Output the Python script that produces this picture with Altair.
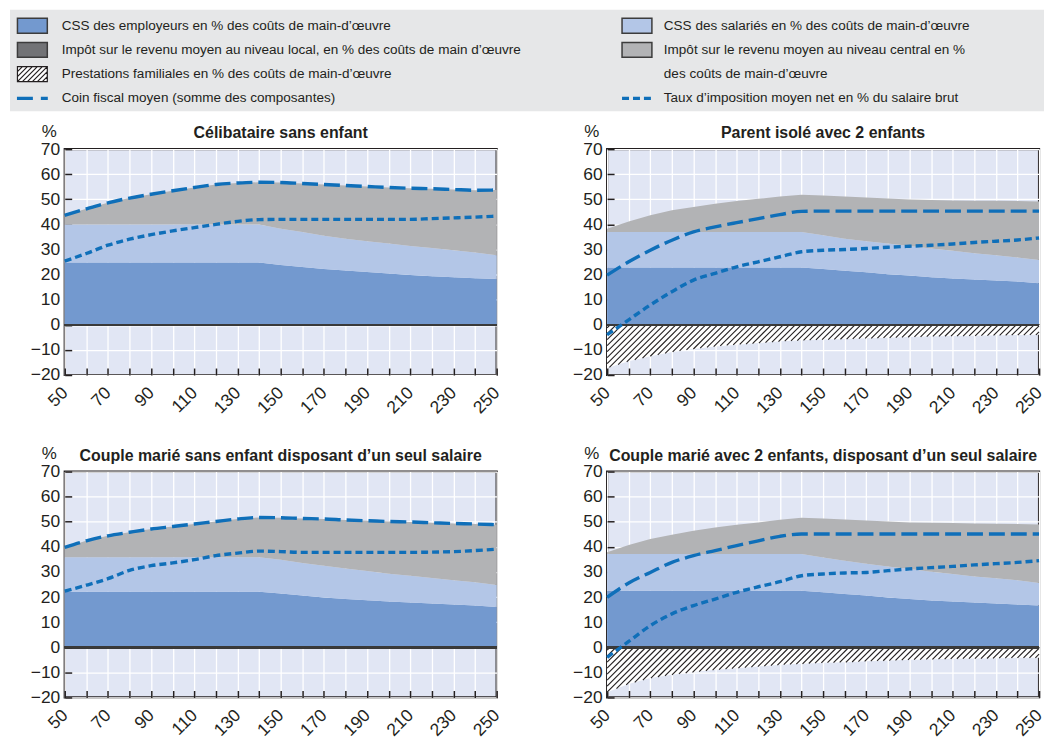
import altair as alt
import numpy as np
import pandas as pd

# ---------------- data ----------------
X_VALUES = [50, 60, 70, 80, 90, 100, 110, 120, 130, 140, 150,
            160, 170, 180, 190, 200, 210, 220, 230, 240, 250]

TITLES = [
    "Célibataire sans enfant",
    "Parent isolé avec 2 enfants",
    "Couple marié sans enfant disposant d’un seul salaire",
    "Couple marié avec 2 enfants, disposant d’un seul salaire",
]

ZEROS = [0.0, 0.0, 0.0, 0.0, 0.0, 0.0, 0.0, 0.0, 0.0, 0.0, 0.0,
         0.0, 0.0, 0.0, 0.0, 0.0, 0.0, 0.0, 0.0, 0.0, 0.0]

# Panel 1 : Célibataire sans enfant
EMPLOYER_1 = [24.8, 24.8, 24.8, 24.8, 24.8, 24.8, 24.8, 24.8, 24.8, 24.8, 23.8,
              23.0, 22.2, 21.6, 21.0, 20.4, 19.8, 19.3, 18.9, 18.5, 18.2]
EMPLOYEE_1 = [15.2, 15.2, 15.2, 15.2, 15.2, 15.2, 15.2, 15.2, 15.2, 15.2, 14.5,
              14.0, 13.3, 12.7, 12.3, 12.0, 11.6, 11.3, 10.8, 10.3, 9.5]
CENTRAL_1 = [3.6, 6.2, 8.6, 10.5, 12.0, 13.4, 14.7, 15.9, 16.5, 16.8, 18.4,
             19.3, 20.4, 21.2, 21.8, 22.3, 23.0, 23.6, 24.2, 24.8, 26.0]
LOCAL_1 = ZEROS
BENEFITS_1 = ZEROS
WEDGE_1 = [43.6, 46.2, 48.6, 50.5, 52.0, 53.4, 54.7, 55.9, 56.5, 56.8, 56.7,
           56.3, 55.9, 55.5, 55.1, 54.7, 54.4, 54.2, 53.9, 53.6, 53.7]
NET_1 = [25.4, 28.4, 31.7, 34.1, 35.9, 37.4, 38.7, 40.0, 41.2, 41.9, 42.0,
         42.0, 42.0, 42.0, 42.0, 42.0, 42.0, 42.3, 42.6, 42.9, 43.3]

# Panel 2 : Parent isolé avec 2 enfants
EMPLOYER_2 = [22.8, 22.8, 22.8, 22.8, 22.8, 22.8, 22.8, 22.8, 22.8, 22.8, 22.2,
              21.5, 20.9, 20.1, 19.6, 18.9, 18.4, 18.0, 17.6, 17.2, 16.6]
EMPLOYEE_2 = [14.2, 14.2, 14.2, 14.2, 14.2, 14.2, 14.2, 14.2, 14.2, 14.2, 13.5,
              12.8, 12.4, 12.3, 11.8, 11.5, 11.1, 10.5, 10.1, 9.6, 9.2]
CENTRAL_2 = [1.3, 4.2, 6.6, 8.6, 9.9, 11.2, 12.3, 13.2, 14.1, 14.8, 15.8,
             16.8, 17.4, 17.9, 18.5, 19.3, 20.0, 20.9, 21.7, 22.5, 23.3]
LOCAL_2 = ZEROS
BENEFITS_2 = [-17.2, -14.5, -12.5, -10.8, -9.6, -8.6, -7.9, -7.3, -6.6, -6.2, -5.9,
              -5.7, -5.4, -5.2, -4.9, -4.6, -4.5, -4.4, -4.2, -4.1, -4.0]
WEDGE_2 = [19.8, 25.1, 29.7, 33.7, 37.0, 39.0, 40.7, 42.3, 43.9, 45.2, 45.3,
           45.3, 45.3, 45.3, 45.3, 45.3, 45.3, 45.3, 45.3, 45.3, 45.3]
NET_2 = [-4.0, 2.0, 7.9, 13.2, 17.8, 20.5, 23.1, 25.1, 27.1, 29.1, 29.7,
         30.0, 30.4, 30.9, 31.3, 31.7, 32.2, 32.8, 33.3, 33.8, 34.6]

# Panel 3 : Couple marié sans enfant
EMPLOYER_3 = [22.1, 22.1, 22.1, 22.1, 22.1, 22.1, 22.1, 22.1, 22.1, 22.1, 21.4,
              20.6, 19.8, 19.2, 18.7, 18.2, 17.8, 17.4, 17.0, 16.6, 16.0]
EMPLOYEE_3 = [13.8, 13.8, 13.8, 13.8, 13.8, 13.8, 13.8, 13.8, 13.8, 13.8, 13.5,
              13.0, 12.7, 12.2, 11.7, 11.1, 10.7, 10.2, 9.7, 9.3, 8.8]
CENTRAL_3 = [3.9, 6.5, 8.5, 9.9, 11.2, 12.2, 13.2, 14.2, 15.2, 15.8, 16.7,
             17.7, 18.6, 19.3, 20.0, 20.8, 21.4, 22.0, 22.6, 23.2, 24.0]
LOCAL_3 = ZEROS
BENEFITS_3 = ZEROS
WEDGE_3 = [39.8, 42.4, 44.4, 45.8, 47.1, 48.1, 49.1, 50.1, 51.1, 51.7, 51.6,
           51.3, 51.1, 50.7, 50.4, 50.1, 49.9, 49.6, 49.3, 49.1, 48.8]
NET_3 = [22.4, 24.7, 27.3, 30.6, 32.5, 33.6, 34.9, 36.5, 37.5, 38.3, 38.1,
         37.8, 37.8, 37.8, 37.8, 37.8, 37.8, 37.9, 38.1, 38.5, 39.1]

# Panel 4 : Couple marié avec 2 enfants
EMPLOYER_4 = [22.5, 22.5, 22.5, 22.5, 22.5, 22.5, 22.5, 22.5, 22.5, 22.5, 21.9,
              21.2, 20.6, 19.8, 19.2, 18.6, 18.2, 17.8, 17.4, 17.0, 16.6]
EMPLOYEE_4 = [14.6, 14.6, 14.6, 14.6, 14.6, 14.6, 14.6, 14.6, 14.6, 14.6, 13.9,
              13.3, 12.7, 12.4, 12.0, 11.5, 11.0, 10.4, 10.1, 9.7, 9.0]
CENTRAL_4 = [0.7, 3.6, 6.0, 7.7, 9.3, 10.6, 11.7, 12.6, 13.7, 14.5, 15.5,
             16.4, 17.2, 17.9, 18.5, 19.5, 20.3, 21.1, 21.7, 22.4, 23.3]
LOCAL_4 = ZEROS
BENEFITS_4 = [-17.9, -14.6, -12.3, -11.0, -9.9, -9.0, -8.4, -7.7, -7.0, -6.6, -6.2,
              -6.0, -5.6, -5.3, -5.0, -4.8, -4.6, -4.5, -4.4, -4.2, -4.2]
WEDGE_4 = [19.9, 25.6, 29.8, 33.8, 36.5, 38.5, 40.5, 42.4, 44.2, 45.1, 45.1,
           45.1, 45.1, 45.1, 45.1, 45.1, 45.1, 45.1, 45.1, 45.1, 45.1]
NET_4 = [-4.0, 2.3, 8.6, 13.3, 16.6, 19.2, 21.9, 24.1, 26.1, 28.5, 29.2,
         29.6, 29.8, 30.5, 31.2, 31.7, 32.2, 32.8, 33.3, 33.8, 34.5]

Y_TICKS = [-20, -10, 0, 10, 20, 30, 40, 50, 60, 70]

LEGEND_LABELS = [
    "CSS des employeurs en % des coûts de main-d’œuvre",
    "CSS des salariés en % des coûts de main-d’œuvre",
    "Impôt sur le revenu moyen au niveau local, en % des coûts de main d’œuvre",
    "Impôt sur le revenu moyen au niveau central en %",
    "Prestations familiales en % des coûts de main-d’œuvre",
    "des coûts de main-d’œuvre",
    "Coin fiscal moyen (somme des composantes)",
    "Taux d’imposition moyen net en % du salaire brut",
]
LEGEND_COLS = ["L", "R", "L", "R", "L", "R", "L", "R"]
LEGEND_ROWS = [1, 1, 2, 2, 3, 3, 4, 4]
LEGEND_KINDS = ["fill", "fill", "fill", "fill", "hatch", "none", "dash", "dot"]

# ---------------- styles ----------------
C_EMPLOYER = "#7399CF"
C_EMPLOYEE = "#B3C6E7"
C_LOCAL = "#727376"
C_CENTRAL = "#B2B3B5"
C_LINE = "#0F6FB9"
C_PLOT_BG = "#E1E6F4"
C_LEG_BG = "#E6E7E8"
C_FRAME = "#231F20"
C_TEXT = "#231F20"
LEGEND_COLORS = [C_EMPLOYER, C_EMPLOYEE, C_LOCAL, C_CENTRAL, "white", "white", C_LINE, C_LINE]

FONT = "Liberation Sans, Arial, sans-serif"

X_MIN, X_MAX = 50, 250
Y_MIN, Y_MAX = -20, 70
PANEL_H = 227
PANEL_W = [434, 434, 434, 434]

PANELS = [
    (EMPLOYER_1, EMPLOYEE_1, LOCAL_1, CENTRAL_1, BENEFITS_1, WEDGE_1, NET_1),
    (EMPLOYER_2, EMPLOYEE_2, LOCAL_2, CENTRAL_2, BENEFITS_2, WEDGE_2, NET_2),
    (EMPLOYER_3, EMPLOYEE_3, LOCAL_3, CENTRAL_3, BENEFITS_3, WEDGE_3, NET_3),
    (EMPLOYER_4, EMPLOYEE_4, LOCAL_4, CENTRAL_4, BENEFITS_4, WEDGE_4, NET_4),
]


def hatch_segments(xs, b, width_px, height_px, spacing_px=6.0):
    """45-degree hatch lines filling the area between 0 and the benefit curve."""
    kx = width_px / (X_MAX - X_MIN)
    ky = height_px / (Y_MAX - Y_MIN)
    slope = kx / ky
    fine = np.linspace(X_MIN, X_MAX, 4001)
    bf = np.interp(fine, xs, b)
    if bf.min() >= 0:
        return pd.DataFrame({"x1": [], "y1": [], "x2": [], "y2": []})
    step = spacing_px / kx
    depth = -bf.min()
    rows = []
    xa = X_MIN + step * 0.5
    while xa < X_MAX + depth / slope:
        if xa <= X_MAX:
            x_top, y_top = xa, 0.0
        else:
            x_top, y_top = float(X_MAX), slope * (X_MAX - xa)
        if y_top > bf[-1] or xa <= X_MAX:
            yline = slope * (fine - xa)
            below = (fine <= x_top) & (yline <= bf)
            if below.any():
                x_bot = fine[np.where(below)[0].max()]
            else:
                x_bot = float(X_MIN)
            y_bot = slope * (x_bot - xa)
            if x_top - x_bot > 1e-6:
                rows.append((x_top, y_top, x_bot, y_bot))
        xa += step
    return pd.DataFrame(rows, columns=["x1", "y1", "x2", "y2"])


def hatch_symbol_path():
    parts = ["M-1,-0.5H1V0.5H-1Z"]
    step = 1.0 / 3.0
    b = -2.0 + step
    while b < 1.0:
        x0, y0 = b, 0.5
        x1, y1 = b + 1.0, -0.5
        if x0 < -1:
            y0 = 0.5 - (-1 - b)
            x0 = -1.0
        if x1 > 1:
            y1 = 0.5 - (1 - b)
            x1 = 1.0
        if x1 - x0 > 0.05:
            parts.append(f"M{x0:.3f},{y0:.3f}L{x1:.3f},{y1:.3f}")
        b += step
    return "".join(parts)


def make_panel(idx):
    emp, sal, loc, cen, ben, wedge, net = PANELS[idx]
    width = PANEL_W[idx]
    df = pd.DataFrame({"x": X_VALUES, "emp": emp, "sal": sal, "loc": loc,
                       "cen": cen, "ben": ben, "wedge": wedge, "net": net})
    df["zero"] = 0.0
    df["e_hi"] = df["emp"]
    df["s_hi"] = df["e_hi"] + df["sal"]
    df["l_hi"] = df["s_hi"] + df["loc"]
    df["c_hi"] = df["l_hi"] + df["cen"]

    xsc = alt.Scale(domain=[X_MIN, X_MAX], nice=False, zero=False)
    ysc = alt.Scale(domain=[Y_MIN, Y_MAX], nice=False, zero=False)
    xax = alt.Axis(values=X_VALUES, grid=True, gridColor="white", gridWidth=1.3,
                   domain=False, ticks=True, tickSize=7, offset=-7,
                   tickColor=C_FRAME, tickWidth=1.5,
                   labelExpr="datum.value % 20 == 10 ? datum.label : ''",
                   labelAngle=-45, labelAlign="right", labelBaseline="middle",
                   labelPadding=15, labelFont=FONT, labelFontSize=17.5,
                   labelColor=C_TEXT, labelOverlap=False, labelFlush=False,
                   title=None)
    yax = alt.Axis(values=Y_TICKS, grid=True, gridColor="white", gridWidth=1.3,
                   domain=False, ticks=True, tickSize=7, offset=-7,
                   tickColor=C_FRAME, tickWidth=1.5,
                   labelPadding=5, labelFont=FONT, labelFontSize=17.5,
                   labelColor=C_TEXT, labelOverlap=False, labelFlush=False,
                   title="%", titleAngle=0, titleX=-23, titleY=-18,
                   titleAlign="center", titleBaseline="middle",
                   titleFont=FONT, titleFontSize=17, titleFontWeight="normal",
                   titleColor=C_TEXT, minExtent=62, maxExtent=62)

    def X(field):
        return alt.X(f"{field}:Q", scale=xsc, axis=xax)

    def Y(field):
        return alt.Y(f"{field}:Q", scale=ysc, axis=yax)

    base = alt.Chart(df)
    layers = [
        base.mark_area(color=C_EMPLOYER, opacity=1).encode(x=X("x"), y=Y("zero"), y2="e_hi:Q"),
        base.mark_area(color=C_EMPLOYEE, opacity=1).encode(x=X("x"), y=Y("e_hi"), y2="s_hi:Q"),
        base.mark_area(color=C_LOCAL, opacity=1).encode(x=X("x"), y=Y("s_hi"), y2="l_hi:Q"),
        base.mark_area(color=C_CENTRAL, opacity=1).encode(x=X("x"), y=Y("l_hi"), y2="c_hi:Q"),
    ]
    hdf = hatch_segments(np.array(X_VALUES, float), np.array(ben, float), width, PANEL_H)
    if len(hdf):
        layers.append(base.mark_area(color="white", opacity=1).encode(x=X("x"), y=Y("zero"), y2="ben:Q"))
        layers.append(alt.Chart(hdf).mark_rule(color=C_FRAME, strokeWidth=1.1).encode(
            x=X("x1"), x2="x2:Q", y=Y("y1"), y2="y2:Q"))
    layers += [
        base.mark_rule(color="#3A3A3A", strokeWidth=1.8).encode(y=alt.Y(datum=0, scale=ysc, axis=yax)),
        base.mark_line(color=C_LINE, strokeWidth=3.4, strokeDash=[16, 6],
                       interpolate="monotone").encode(x=X("x"), y=Y("wedge")),
        base.mark_line(color=C_LINE, strokeWidth=3.4, strokeDash=[7, 4],
                       interpolate="monotone").encode(x=X("x"), y=Y("net")),
    ]
    return alt.layer(*layers).properties(
        width=width, height=PANEL_H,
        title=alt.TitleParams(TITLES[idx], font=FONT, fontSize=16, fontWeight="bold",
                              color=C_TEXT, anchor="middle", frame="group", offset=-19),
        view=alt.ViewBackground(fill=C_PLOT_BG, stroke=C_FRAME, strokeWidth=2.2),
    )


# ---------------- legend (two halves sitting above the two columns) ----------------
leg_df = pd.DataFrame({"label": LEGEND_LABELS, "col": LEGEND_COLS, "row": LEGEND_ROWS,
                       "kind": LEGEND_KINDS, "color": LEGEND_COLORS})
RECT_PATH = "M-1,-0.5H1V0.5H-1Z"
LINE_PATH = "M-1,0L1,0"
LEGEND_VIEW_H = 43


def legend_half(col, sym_x, text_x, width, with_bg):
    d = leg_df[leg_df["col"] == col]
    base = alt.Chart(d).encode(
        y=alt.Y("row:O", scale=alt.Scale(type="point", domain=[1, 2, 3, 4],
                                         range=[16, 89], padding=0), axis=None))
    layers = []
    if with_bg:
        layers.append(base.transform_filter(alt.datum.row == 1).mark_rect(
            color=C_LEG_BG, opacity=1).encode(
            x=alt.value(-55), x2=alt.value(984), y=alt.value(0), y2=alt.value(102)))
    layers += [
        base.transform_filter(alt.datum.kind == "fill").mark_point(
            shape=RECT_PATH, size=900, filled=True, opacity=1, stroke="#3C3C3C",
            strokeWidth=1.5).encode(x=alt.value(sym_x), fill=alt.Fill("color:N", scale=None)),
        base.transform_filter(alt.datum.kind == "hatch").mark_point(
            shape=hatch_symbol_path(), size=900, filled=True, fill="white", opacity=1,
            stroke=C_FRAME, strokeWidth=1.2).encode(x=alt.value(sym_x)),
        base.transform_filter(alt.datum.kind == "dash").mark_point(
            shape=LINE_PATH, size=961, filled=False, opacity=1, stroke=C_LINE,
            strokeWidth=3.4, strokeDash=[16, 8]).encode(x=alt.value(sym_x)),
        base.transform_filter(alt.datum.kind == "dot").mark_point(
            shape=LINE_PATH, size=900, filled=False, opacity=1, stroke=C_LINE,
            strokeWidth=3.4, strokeDash=[7, 4]).encode(x=alt.value(sym_x)),
        base.mark_text(align="left", baseline="middle", font=FONT, fontSize=13.6,
                       color=C_TEXT).encode(x=alt.value(text_x), text="label:N"),
    ]
    return alt.layer(*layers).properties(
        width=width, height=LEGEND_VIEW_H,
        view=alt.ViewBackground(fill="transparent", strokeWidth=0))


legend_left = legend_half("L", -32.5, -3, PANEL_W[0], True)
legend_right = legend_half("R", 30, 57, PANEL_W[1], False)

chart = alt.concat(
    legend_left, legend_right,
    make_panel(0), make_panel(1), make_panel(2), make_panel(3),
    columns=2, spacing={"row": 97, "column": 111}, bounds="flush",
).properties(padding=0, background="white").configure(font=FONT)

chart.save("out.html", embed_options={"renderer": "svg", "actions": False})
